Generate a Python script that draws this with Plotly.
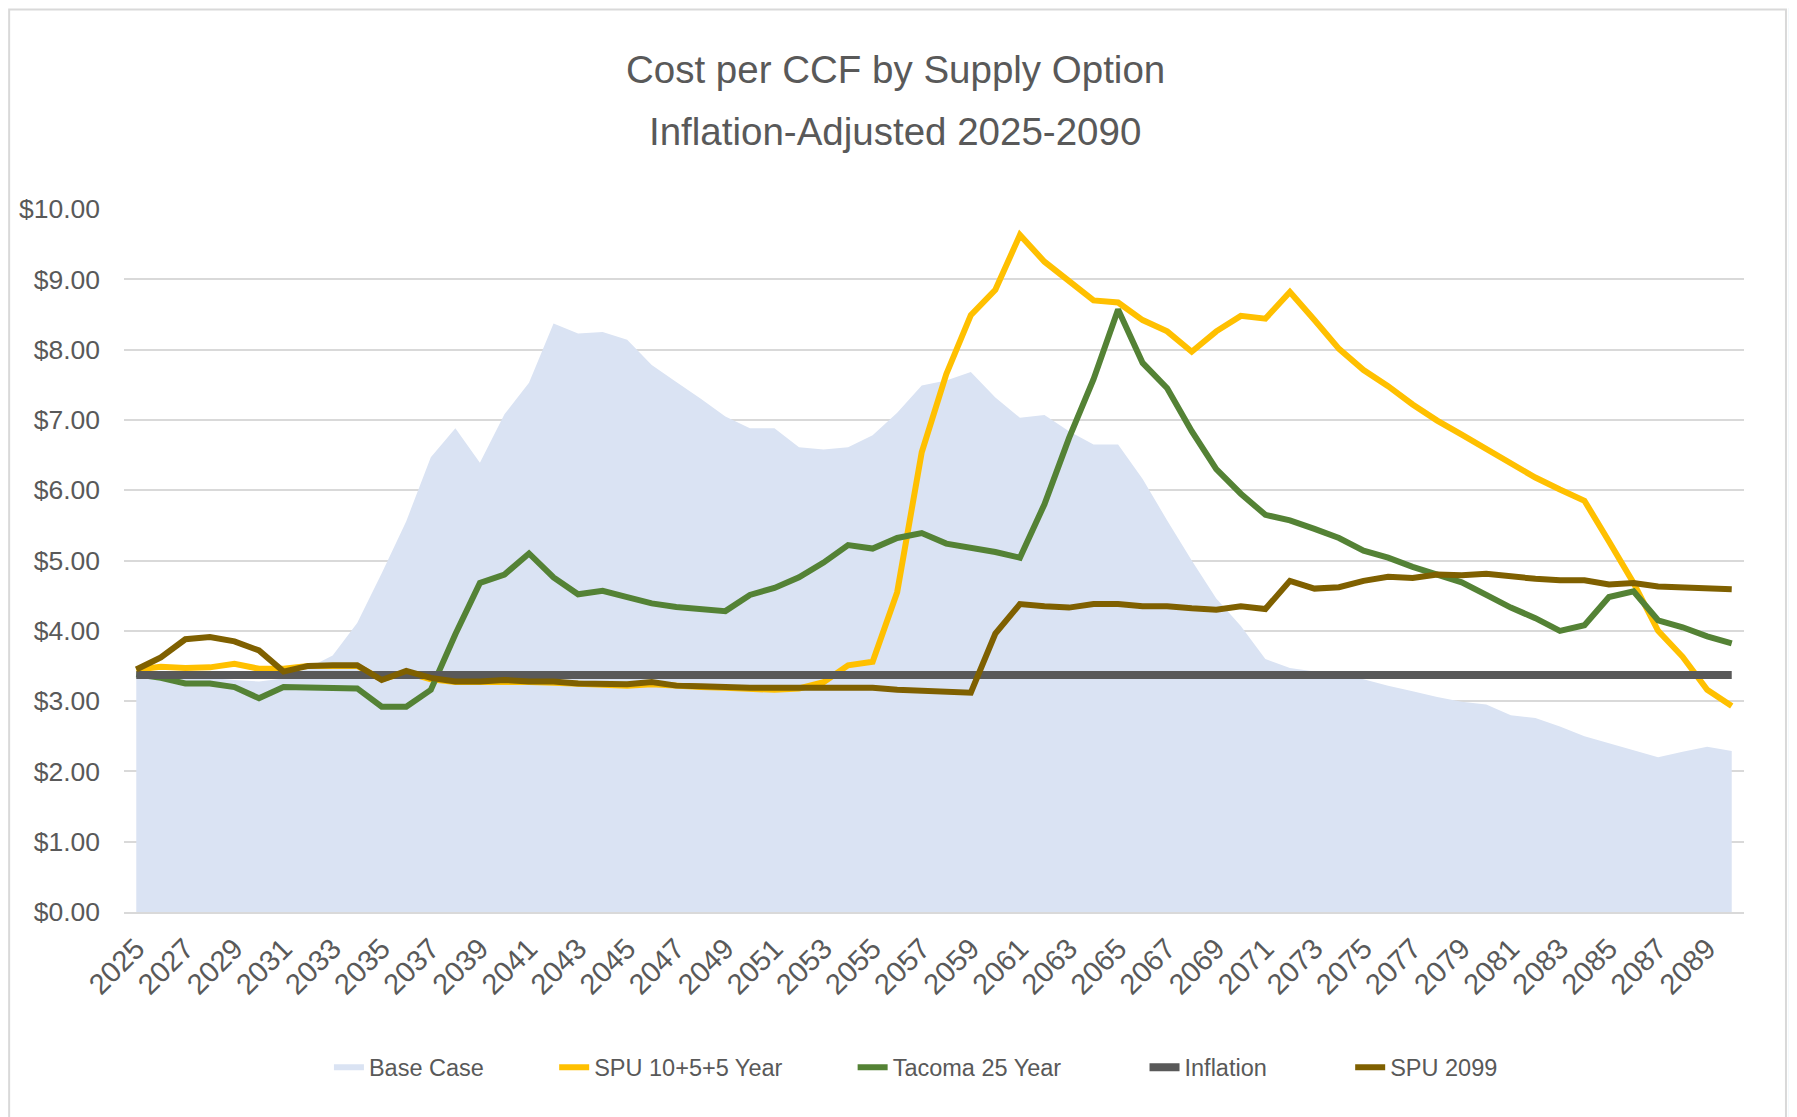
import plotly.graph_objects as go

# Cost per CCF by Supply Option, inflation-adjusted 2025-2090
# ====================================================
years = list(range(2025, 2091))

base_case = [3.35, 3.33, 3.32, 3.33, 3.30, 3.28, 3.32, 3.47, 3.65, 4.11,
             4.82, 5.56, 6.47, 6.88, 6.39, 7.08, 7.53, 8.37, 8.23, 8.25,
             8.14, 7.78, 7.54, 7.30, 7.05, 6.88, 6.88, 6.61, 6.58, 6.61,
             6.78, 7.10, 7.49, 7.56, 7.68, 7.32, 7.03, 7.07, 6.84, 6.65,
             6.65, 6.16, 5.57, 5.00, 4.46, 4.07, 3.60, 3.47, 3.42, 3.38,
             3.31, 3.22, 3.14, 3.06, 2.99, 2.95, 2.80, 2.76, 2.64, 2.50,
             2.40, 2.30, 2.20, 2.28, 2.35, 2.29]

spu_10_5_5 = [3.45, 3.49, 3.47, 3.48, 3.53, 3.46, 3.46, 3.50, 3.50, 3.50,
              3.31, 3.41, 3.31, 3.27, 3.27, 3.28, 3.27, 3.26, 3.24, 3.23,
              3.22, 3.24, 3.21, 3.20, 3.19, 3.18, 3.16, 3.18, 3.27, 3.51,
              3.56, 4.55, 6.54, 7.65, 8.49, 8.85, 9.63, 9.25, 8.98, 8.70,
              8.67, 8.42, 8.26, 7.97, 8.26, 8.48, 8.44, 8.82, 8.42, 8.01,
              7.71, 7.48, 7.22, 6.99, 6.79, 6.59, 6.39, 6.18, 6.01, 5.85,
              5.27, 4.68, 4.00, 3.63, 3.16, 2.93]

tacoma_25 = [3.38, 3.33, 3.25, 3.25, 3.20, 3.04, 3.20, 3.20, 3.18, 3.18,
             2.92, 2.92, 3.16, 3.95, 4.68, 4.80, 5.10, 4.76, 4.52, 4.57,
             4.48, 4.39, 4.34, 4.30, 4.28, 4.51, 4.61, 4.76, 4.97, 5.22,
             5.17, 5.32, 5.39, 5.24, 5.19, 5.12, 5.04, 5.80, 6.74, 7.58,
             8.57, 7.81, 7.45, 6.84, 6.30, 5.95, 5.65, 5.57, 5.45, 5.32,
             5.14, 5.04, 4.91, 4.81, 4.69, 4.51, 4.33, 4.18, 4.00, 4.08,
             4.48, 4.56, 4.15, 4.05, 3.92, 3.82]

inflation = [3.37] * len(years)

spu_2099 = [3.45, 3.62, 3.88, 3.91, 3.85, 3.72, 3.42, 3.50, 3.51, 3.51,
            3.30, 3.43, 3.33, 3.28, 3.28, 3.30, 3.28, 3.28, 3.25, 3.25,
            3.24, 3.27, 3.22, 3.21, 3.19, 3.19, 3.19, 3.19, 3.17, 3.19,
            3.19, 3.16, 3.14, 3.14, 3.12, 3.96, 4.38, 4.35, 4.33, 4.38,
            4.38, 4.35, 4.35, 4.32, 4.30, 4.35, 4.31, 4.71, 4.60, 4.62,
            4.71, 4.77, 4.75, 4.80, 4.79, 4.81, 4.77, 4.74, 4.72, 4.72,
            4.66, 4.68, 4.63, 4.61, 4.59, 4.59]

label_years = years[::2]
title_lines = ["Cost per CCF by Supply Option", "Inflation-Adjusted 2025-2090"]

FONT = "Liberation Sans, Arial, sans-serif"
GREY = "#595959"


def pad(n):
    # extra room between legend entries, like the Excel legend
    return "\u00a0" * n


trace0 = go.Scatter(x=years, y=base_case, name="Base Case" + pad(10), mode="none",
                    fill="tozeroy", fillcolor="#DAE3F3")
trace1 = go.Scatter(x=years, y=spu_10_5_5, name="SPU 10+5+5 Year" + pad(10), mode="lines",
                    line=dict(color="#FFC000", width=6))
trace2 = go.Scatter(x=years, y=tacoma_25, name="Tacoma 25 Year" + pad(12), mode="lines",
                    line=dict(color="#548235", width=6))
trace3 = go.Scatter(x=years, y=inflation, name="Inflation" + pad(12), mode="lines",
                    line=dict(color=GREY, width=8))
trace4 = go.Scatter(x=years, y=spu_2099, name="SPU 2099", mode="lines",
                    line=dict(color="#7F6000", width=6))

layout = go.Layout(
    width=1789, height=1109,
    margin=dict(l=116, r=53, t=201, b=205),
    paper_bgcolor="white", plot_bgcolor="white",
    font=dict(family=FONT, color=GREY),
    xaxis=dict(range=[2024.5, 2090.5], tickmode="array", tickvals=label_years,
               ticktext=[str(y) for y in label_years], tickangle=-45,
               tickfont=dict(size=29, color=GREY), showgrid=False, zeroline=False,
               showline=True, linecolor="#D9D9D9", linewidth=2, ticks="",
               ticklabelstandoff=6),
    yaxis=dict(range=[0, 10], dtick=1, tickprefix="$", tickformat=".2f",
               tickfont=dict(size=26.5, color=GREY), gridcolor="#D9D9D9",
               gridwidth=2, zeroline=False, showline=False, ticks="",
               ticklabelstandoff=23),
    legend=dict(orientation="h", x=0.1265, xanchor="left", y=-0.221, yanchor="middle",
                font=dict(size=23.5, color=GREY), traceorder="normal"),
    showlegend=True,
    annotations=[
        dict(text=title_lines[0], xref="paper", yref="paper", x=0.476, y=1.1984,
             xanchor="center", yanchor="middle", showarrow=False,
             font=dict(family=FONT, size=38.5, color=GREY)),
        dict(text=title_lines[1], xref="paper", yref="paper", x=0.476, y=1.1103,
             xanchor="center", yanchor="middle", showarrow=False,
             font=dict(family=FONT, size=38.5, color=GREY)),
    ],
    shapes=[
        dict(type="rect", xref="paper", yref="paper",
             x0=-0.0709, x1=1.0259, y0=-0.30, y1=1.2837,
             line=dict(color="#D9D9D9", width=2), fillcolor="rgba(0,0,0,0)",
             layer="below"),
        dict(type="rect", xref="paper", yref="paper",
             x0=1.0275, x1=1.034, y0=-0.30, y1=1.29,
             line=dict(width=0), fillcolor="#E6F5FA", layer="below"),
    ],
)

fig = go.Figure(data=[trace0, trace1, trace2, trace3, trace4], layout=layout)
fig.write_html("out.html")
